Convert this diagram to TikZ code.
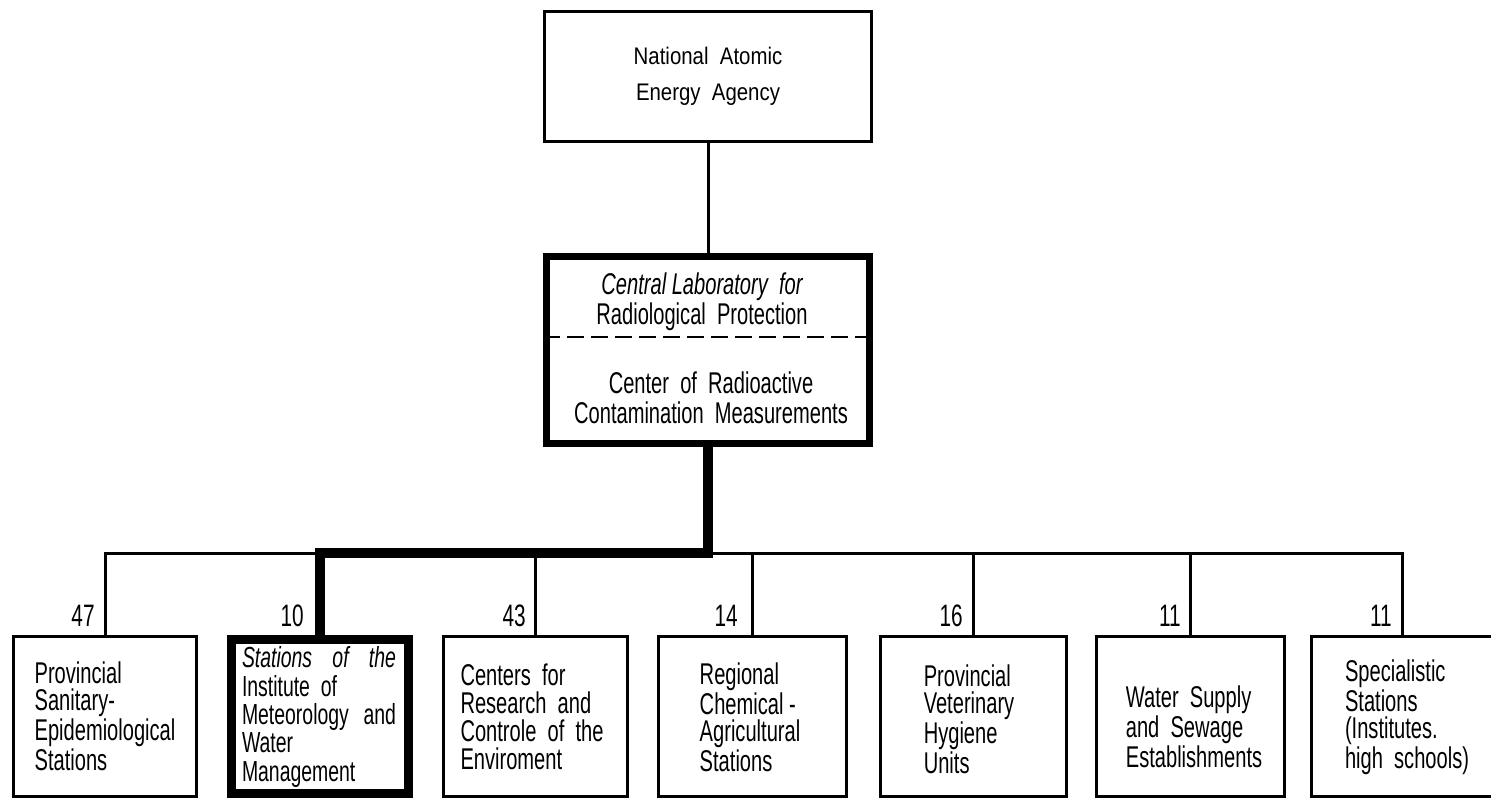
\documentclass[tikz,border=0pt]{standalone}
\usepackage{fontspec}
\setmainfont{Liberation Sans}[FakeStretch=0.67]
\newfontfamily\topfont{Liberation Sans}[FakeStretch=0.85]
\begin{document}
\begin{tikzpicture}[x=0.5pt,y=-0.5pt,
  thinbox/.style={draw,line width=1.5pt,inner sep=0pt,minimum height=80pt},
  thickbox/.style={draw,line width=4.5pt,inner sep=0pt},
  conn/.style={line width=1.5pt},
  thickconn/.style={line width=5pt},
  lbl/.style={font=\fontsize{15}{13.5}\selectfont,align=left,inner sep=0pt},
  num/.style={font=\fontsize{15.5}{15}\selectfont,inner sep=0pt,anchor=base east}]
\clip (0,0) rectangle (1491,799);
\fill[white] (0,0) rectangle (1491,799);

% top box
\node[draw,line width=1.5pt,minimum width=163.5pt,minimum height=65pt,inner sep=0pt,
  align=center,font=\topfont\fontsize{12}{18}\selectfont] (top) at (708,76.5)
  {National\ \ Atomic\\Energy\ \ Agency};

% central box
\node[draw,line width=3.5pt,minimum width=161.5pt,minimum height=93.5pt,inner sep=0pt] (central) at (708,350) {};
\draw[line width=1pt,dash pattern=on 8.5pt off 3.5pt] (central.west |- 0,337) coordinate (dl) -- (central.east |- 0,337) coordinate (dr);
\node[font=\fontsize{15}{12.5}\selectfont,align=center,inner sep=0pt] (clabA) at (702,302)
  {{\itshape Central Laboratory\ \ for}\\Radiological\ \ Protection};
\node[font=\fontsize{15}{15}\selectfont,align=center,inner sep=0pt] (clabB) at (711,398)
  {Center\ \ of\ \ Radioactive\\Contamination\ \ Measurements};

% bottom boxes
\node[thinbox,minimum width=91.5pt] (b1) at (105,716) {};
\node[thickbox,minimum width=88.5pt,minimum height=77pt] (b2) at (320,716.5) {};
\node[thinbox,minimum width=92pt] (b3) at (535,716) {};
\node[thinbox,minimum width=94pt] (b4) at (752,716) {};
\node[thinbox,minimum width=93pt] (b5) at (973,716) {};
\node[thinbox,minimum width=94pt] (b6) at (1190,716) {};
\node[thinbox,minimum width=91pt] (b7) at (1402,716) {};

\node[lbl] (t1) at (105,716) {Provincial\\Sanitary-\\Epidemiological\\Stations};
\node[lbl,font=\fontsize{14.5}{14.2}\selectfont] (t2) at (319,717)
  {\makebox[77pt][s]{\itshape Stations of the}\\Institute\ \ of\\\makebox[77pt][s]{Meteorology and}\\Water\\Management};
\node[lbl,font=\fontsize{15}{14}\selectfont] (t3) at (532,717)
  {Centers\ \ for\\Research\ \ and\\Controle\ \ of\ \ the\\Enviroment};
\node[lbl] (t4) at (750,717) {Regional\\Chemical -\\Agricultural\\Stations};
\node[lbl] (t5) at (969,719) {Provincial\\Veterinary\\Hygiene\\Units};
\node[lbl] (t6) at (1194,727) {Water\ \ Supply\\and\ \ Sewage\\Establishments};
\node[lbl] (t7) at (1407,717) {Specialistic\\Stations\\(Institutes.\\high\ \ schools)};

% connectors
\coordinate (busL) at (b1.north |- 0,553);
\coordinate (busR) at (b7.north |- 0,553);
\draw[conn] (top.south) -- (central.north);
\draw[conn] (b1.north) -- (busL) -- (busR) -- (b7.north);
\foreach \b in {b3,b4,b5,b6} \draw[conn] (\b.north |- busL) -- (\b.north);
\draw[thickconn] (central.south) -- (central.south |- busL) -| (b2.north);

% numbers
\node[num] (n1) at (95,626) {47};
\node[num] (n2) at (304,626) {10};
\node[num] (n3) at (526,626) {43};
\node[num] (n4) at (738,626) {14};
\node[num] (n5) at (963,626) {16};
\node[num] (n6) at (1181,626) {11};
\node[num] (n7) at (1392,626) {11};
\end{tikzpicture}
\end{document}
